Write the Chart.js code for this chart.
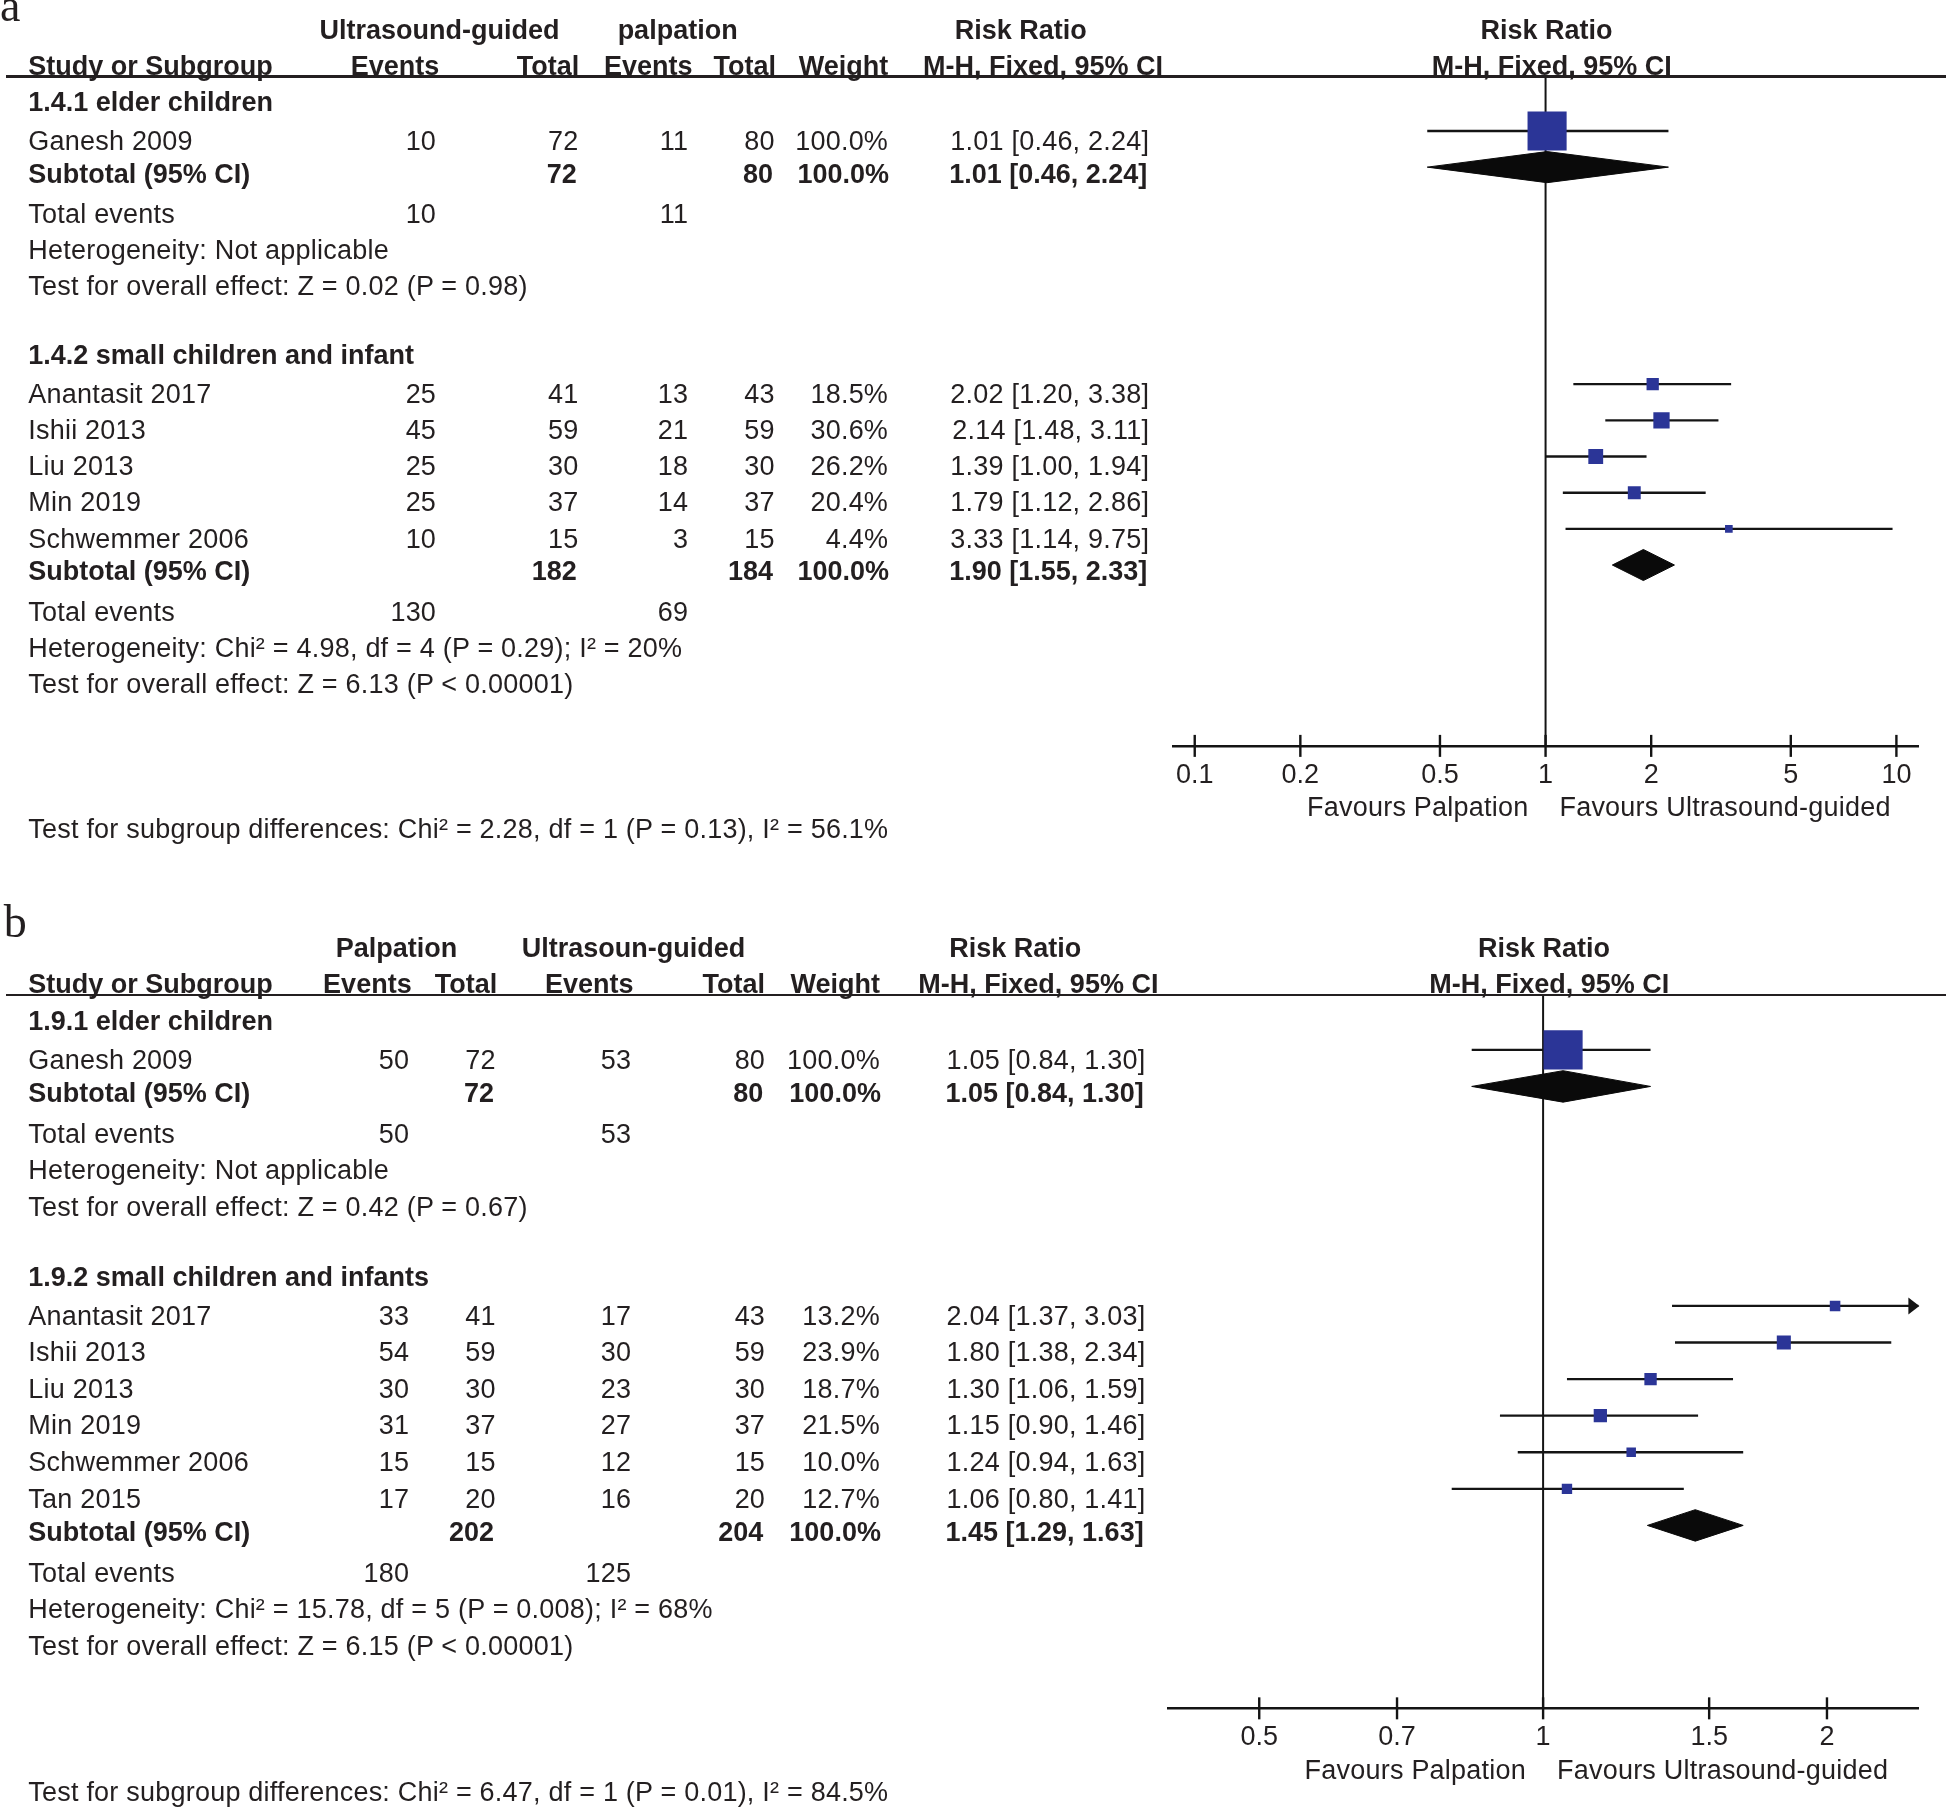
<!DOCTYPE html>
<html>
<head>
<meta charset="utf-8">
<script src="https://cdn.jsdelivr.net/npm/chart.js@4.4.1/dist/chart.umd.min.js"></script>
<style>
html, body { margin: 0; padding: 0; background: #fff; }
#page { position: relative; width: 1946px; height: 1807px; overflow: hidden;
        font-family: "Liberation Sans", Arial, Helvetica, sans-serif; color: #231f20; }
.t { position: absolute; white-space: nowrap; font-size: 27px; line-height: 27px; letter-spacing: 0.22px; }
.b { font-weight: bold; letter-spacing: 0; }
.lbl { position: absolute; font-family: "Liberation Serif", "Times New Roman", serif;
       font-size: 46px; line-height: 46px; }
.rule { position: absolute; height: 2.4px; background: #231f20; }
canvas { position: absolute; left: 0; }
</style>
</head>
<body>
<div id="page">
  <canvas id="plotA"></canvas>
  <canvas id="plotB"></canvas>
</div>
<script>
// ---------- panel a : ultrasound-guided vs palpation ----------
var armsA = ["Ultrasound-guided", "palpation"];
var subgroupsA = ["1.4.1 elder children", "1.4.2 small children and infant"];
var studiesA = ["Ganesh 2009", "Anantasit 2017", "Ishii 2013", "Liu 2013", "Min 2019", "Schwemmer 2006"];
var groupOfA = [0, 1, 1, 1, 1, 1];
var expEventsA = [10, 25, 45, 25, 25, 10];
var expTotalA = [72, 41, 59, 30, 37, 15];
var ctlEventsA = [11, 13, 21, 18, 14, 3];
var ctlTotalA = [80, 43, 59, 30, 37, 15];
var weightA = [100.0, 18.5, 30.6, 26.2, 20.4, 4.4];
var rrA = [1.01, 2.02, 2.14, 1.39, 1.79, 3.33];
var loA = [0.46, 1.20, 1.48, 1.00, 1.12, 1.14];
var hiA = [2.24, 3.38, 3.11, 1.94, 2.86, 9.75];
var subRrA = [1.01, 1.90];
var subLoA = [0.46, 1.55];
var subHiA = [2.24, 2.33];
var hetA = ["Heterogeneity: Not applicable",
            "Heterogeneity: Chi\u00b2 = 4.98, df = 4 (P = 0.29); I\u00b2 = 20%"];
var effectA = ["Test for overall effect: Z = 0.02 (P = 0.98)",
               "Test for overall effect: Z = 6.13 (P < 0.00001)"];
var diffA = "Test for subgroup differences: Chi\u00b2 = 2.28, df = 1 (P = 0.13), I\u00b2 = 56.1%";
var ticksA = [0.1, 0.2, 0.5, 1, 2, 5, 10];

// ---------- panel b : palpation vs ultrasound-guided ----------
var armsB = ["Palpation", "Ultrasoun-guided"];
var subgroupsB = ["1.9.1 elder children", "1.9.2 small children and infants"];
var studiesB = ["Ganesh 2009", "Anantasit 2017", "Ishii 2013", "Liu 2013", "Min 2019", "Schwemmer 2006", "Tan 2015"];
var groupOfB = [0, 1, 1, 1, 1, 1, 1];
var expEventsB = [50, 33, 54, 30, 31, 15, 17];
var expTotalB = [72, 41, 59, 30, 37, 15, 20];
var ctlEventsB = [53, 17, 30, 23, 27, 12, 16];
var ctlTotalB = [80, 43, 59, 30, 37, 15, 20];
var weightB = [100.0, 13.2, 23.9, 18.7, 21.5, 10.0, 12.7];
var rrB = [1.05, 2.04, 1.80, 1.30, 1.15, 1.24, 1.06];
var loB = [0.84, 1.37, 1.38, 1.06, 0.90, 0.94, 0.80];
var hiB = [1.30, 3.03, 2.34, 1.59, 1.46, 1.63, 1.41];
var subRrB = [1.05, 1.45];
var subLoB = [0.84, 1.29];
var subHiB = [1.30, 1.63];
var hetB = ["Heterogeneity: Not applicable",
            "Heterogeneity: Chi\u00b2 = 15.78, df = 5 (P = 0.008); I\u00b2 = 68%"];
var effectB = ["Test for overall effect: Z = 0.42 (P = 0.67)",
               "Test for overall effect: Z = 6.15 (P < 0.00001)"];
var diffB = "Test for subgroup differences: Chi\u00b2 = 6.47, df = 1 (P = 0.01), I\u00b2 = 84.5%";
var ticksB = [0.5, 0.7, 1, 1.5, 2];

// reference was measured at 1568 px wide, page is 1946
var S = 1946 / 1568;
var FONT = '"Liberation Sans", Arial, Helvetica, sans-serif';
var INK = "#231f20";
var LINE = "#141414";
var BLUE = "#2b3597";
var page = document.getElementById("page");

// text placed by its visual centre line (display units)
function put(str, x, yc, align, bold) {
  var d = document.createElement("div");
  d.className = "t" + (bold ? " b" : "");
  d.textContent = str;
  d.style.left = (x * S) + "px";
  d.style.top = (yc * S + 0.358 * 27 - 22.86) + "px";
  if (align === "right") d.style.transform = "translateX(-100%)";
  else if (align === "center") d.style.transform = "translateX(-50%)";
  page.appendChild(d);
}

function rule(y) {
  var d = document.createElement("div");
  d.className = "rule";
  d.style.left = (5 * S) + "px";
  d.style.width = (1946 - 5 * S) + "px";
  d.style.top = (y * S - 1.2) + "px";
  page.appendChild(d);
}

function fmtRR(r, l, h) {
  return r.toFixed(2) + " [" + l.toFixed(2) + ", " + h.toFixed(2) + "]";
}

// box side grows with study weight
function boxRadius(w) {
  return (5 + 0.265 * w) * S / Math.SQRT2;
}

// tick marks crossing the axis + arrows for CIs past the scale
var forestExtras = {
  id: "forestExtras",
  afterDraw: function(chart, args, opts) {
    var ctx = chart.ctx, area = chart.chartArea;
    var x = chart.scales.x, y = chart.scales.y;
    ctx.save();
    ctx.strokeStyle = LINE;
    ctx.fillStyle = LINE;
    ctx.lineWidth = 2.4;
    x.ticks.forEach(function(t) {
      var px = x.getPixelForValue(t.value);
      ctx.beginPath();
      ctx.moveTo(px, area.bottom - 11);
      ctx.lineTo(px, area.bottom + 11);
      ctx.stroke();
    });
    opts.hi.forEach(function(h, i) {
      if (h > x.max) {
        var py = y.getPixelForValue(opts.rows[i]);
        ctx.beginPath();
        ctx.moveTo(area.right + 1, py);
        ctx.lineTo(area.right - 10, py - 8.5);
        ctx.lineTo(area.right - 10, py + 8.5);
        ctx.closePath();
        ctx.fill();
      }
    });
    ctx.restore();
  }
};

function buildPanel(p) {
  // table rows: header, studies, subtotal, total events, heterogeneity, overall effect, blank
  var rows = { header: [], study: [], subtotal: [], total: [], het: [], effect: [] };
  var r = -1;
  p.subgroups.forEach(function(name, g) {
    rows.header[g] = r++;
    p.groupOf.forEach(function(gg, i) { if (gg === g) rows.study[i] = r++; });
    rows.subtotal[g] = r++;
    rows.total[g] = r++;
    rows.het[g] = r++;
    rows.effect[g] = r++;
    r++;
  });
  var lastRow = rows.effect[rows.effect.length - 1];
  var yMin = -1.5, yMax = lastRow + 2;

  var cv = document.getElementById(p.canvasId);
  cv.width = 1946;
  cv.height = p.height;
  cv.style.top = p.top + "px";

  var datasets = [];
  // pooled diamonds (on top)
  p.subRr.forEach(function(v, g) {
    var row = rows.subtotal[g];
    datasets.push({
      type: "line",
      data: [{x: p.subLo[g], y: row}, {x: v, y: row - 0.43}, {x: p.subHi[g], y: row},
             {x: v, y: row + 0.43}, {x: p.subLo[g], y: row}],
      fill: "shape", backgroundColor: "#0a0a0a", borderColor: "#0a0a0a",
      borderWidth: 1, pointRadius: 0
    });
  });
  // study boxes
  datasets.push({
    type: "scatter",
    data: p.rr.map(function(v, i) { return {x: v, y: rows.study[i]}; }),
    pointStyle: "rect",
    pointRadius: function(c) { return boxRadius(p.weight[c.dataIndex]); },
    backgroundColor: BLUE, borderWidth: 0
  });
  // confidence intervals
  p.rr.forEach(function(v, i) {
    datasets.push({
      type: "line",
      data: [{x: p.lo[i], y: rows.study[i]}, {x: p.hi[i], y: rows.study[i]}],
      borderColor: LINE, borderWidth: 2.4, pointRadius: 0, fill: false
    });
  });
  // line of no effect
  datasets.push({
    type: "line",
    data: [{x: 1, y: yMin}, {x: 1, y: yMax}],
    borderColor: LINE, borderWidth: 2, pointRadius: 0, fill: false
  });

  var axisH = p.height - (p.axisY * S - p.top);
  var chart = new Chart(cv, {
    type: "scatter",
    data: { datasets: datasets },
    options: {
      responsive: false,
      animation: false,
      events: [],
      layout: { padding: { left: p.left * S, right: 1946 - p.right * S, top: p.ruleY * S - p.top, bottom: 0 } },
      scales: {
        x: {
          type: "logarithmic", position: "bottom", min: p.xMin, max: p.xMax,
          afterBuildTicks: function(ax) { ax.ticks = p.ticks.map(function(v) { return {value: v}; }); },
          afterFit: function(ax) { ax.height = axisH; },
          grid: { display: false, drawTicks: false },
          border: { display: true, color: LINE, width: 2.6 },
          ticks: { autoSkip: false, maxRotation: 0, padding: 13.5, color: INK,
                   font: { family: FONT, size: 27 },
                   callback: function(v) { return String(v); } }
        },
        y: { type: "linear", reverse: true, min: yMin, max: yMax, display: false }
      },
      plugins: {
        legend: { display: false },
        tooltip: { enabled: false },
        forestExtras: { hi: p.hi, rows: rows.study }
      }
    },
    plugins: [forestExtras]
  });

  // ----- table text, aligned to the chart rows -----
  var yAt = function(row) { return (p.top + chart.scales.y.getPixelForValue(row)) / S; };
  var xOne = chart.scales.x.getPixelForValue(1) / S;
  var c = p.cols;

  var lbl = document.createElement("div");
  lbl.className = "lbl";
  lbl.textContent = p.label;
  lbl.style.left = (p.labelX * S) + "px";
  lbl.style.top = (p.labelBase * S - 38.5) + "px";
  page.appendChild(lbl);

  rule(p.ruleY);
  var h1 = p.ruleY - 37.6, h2 = p.ruleY - 8.8;
  put(p.arms[0], p.armX[0], h1, "center", true);
  put(p.arms[1], p.armX[1], h1, "center", true);
  put("Risk Ratio", p.armX[2], h1, "center", true);
  put("Risk Ratio", xOne + 0.8, h1, "center", true);
  put("Study or Subgroup", c.name, h2, "left", true);
  put("Events", p.headX[0], h2, "right", true);
  put("Total", p.headX[1], h2, "right", true);
  put("Events", p.headX[2], h2, "right", true);
  put("Total", p.headX[3], h2, "right", true);
  put("Weight", p.headX[4], h2, "right", true);
  put("M-H, Fixed, 95% CI", p.headX[5], h2, "right", true);
  put("M-H, Fixed, 95% CI", xOne + 5, h2, "center", true);

  p.subgroups.forEach(function(name, g) {
    put(name, c.name, yAt(rows.header[g]) + 6, "left", true);
    var se = 0, st = 0, ce = 0, ct = 0;
    p.studies.forEach(function(s, i) {
      if (p.groupOf[i] !== g) return;
      var y = yAt(rows.study[i]) + 8;
      put(s, c.name, y, "left");
      put(String(p.expEvents[i]), c.e1, y, "right");
      put(String(p.expTotal[i]), c.t1, y, "right");
      put(String(p.ctlEvents[i]), c.e2, y, "right");
      put(String(p.ctlTotal[i]), c.t2, y, "right");
      put(p.weight[i].toFixed(1) + "%", c.w, y, "right");
      put(fmtRR(p.rr[i], p.lo[i], p.hi[i]), c.rr, y, "right");
      se += p.expEvents[i]; st += p.expTotal[i]; ce += p.ctlEvents[i]; ct += p.ctlTotal[i];
    });
    var ys = yAt(rows.subtotal[g]) + 5.3;
    put("Subtotal (95% CI)", c.name, ys, "left", true);
    put(String(st), c.t1 - 1.5, ys, "right", true);
    put(String(ct), c.t2 - 1.5, ys, "right", true);
    put("100.0%", c.w + 0.8, ys, "right", true);
    put(fmtRR(p.subRr[g], p.subLo[g], p.subHi[g]), c.rr - 1.5, ys, "right", true);
    var yt = yAt(rows.total[g]) + 8.7;
    put("Total events", c.name, yt, "left");
    put(String(se), c.e1, yt, "right");
    put(String(ce), c.e2, yt, "right");
    put(p.het[g], c.name, yAt(rows.het[g]) + 8.7, "left");
    put(p.effect[g], c.name, yAt(rows.effect[g]) + 8.7, "left");
  });
  put(p.diff, c.name, yAt(lastRow + 4) + 8.5, "left");

  // axis captions
  var yf = p.axisY + 49.5;
  put("Favours Palpation", xOne - 13.8, yf, "right");
  put("Favours Ultrasound-guided", xOne + 11.2, yf, "left");
  return chart;
}

buildPanel({
  canvasId: "plotA", top: 0, height: 880,
  label: "a", labelX: 0, labelBase: 17.5,
  ruleY: 61.8, axisY: 601, left: 945, right: 1547.5,
  xMin: 0.0866, xMax: 11.55, ticks: ticksA,
  arms: armsA, armX: [354.2, 546, 822.5],
  headX: [354, 466.7, 558, 625.2, 715.8, 937.1],
  cols: { name: 22.8, e1: 351.4, t1: 466.2, e2: 554.6, t2: 624.3, w: 715.6, rr: 926 },
  subgroups: subgroupsA, studies: studiesA, groupOf: groupOfA,
  expEvents: expEventsA, expTotal: expTotalA, ctlEvents: ctlEventsA, ctlTotal: ctlTotalA,
  weight: weightA, rr: rrA, lo: loA, hi: hiA,
  subRr: subRrA, subLo: subLoA, subHi: subHiA,
  het: hetA, effect: effectA, diff: diffA
});

buildPanel({
  canvasId: "plotB", top: 880, height: 927,
  label: "b", labelX: 3, labelBase: 755,
  ruleY: 801.7, axisY: 1376.5, left: 941, right: 1547.5,
  xMin: 0.4, xMax: 2.5, ticks: ticksB,
  arms: armsB, armX: [319.4, 510.5, 818],
  headX: [331.7, 400.7, 510.5, 616.5, 709, 933.4],
  cols: { name: 22.8, e1: 329.8, t1: 399.5, e2: 508.6, t2: 616.5, w: 709, rr: 923 },
  subgroups: subgroupsB, studies: studiesB, groupOf: groupOfB,
  expEvents: expEventsB, expTotal: expTotalB, ctlEvents: ctlEventsB, ctlTotal: ctlTotalB,
  weight: weightB, rr: rrB, lo: loB, hi: hiB,
  subRr: subRrB, subLo: subLoB, subHi: subHiB,
  het: hetB, effect: effectB, diff: diffB
});
</script>
</body>
</html>
